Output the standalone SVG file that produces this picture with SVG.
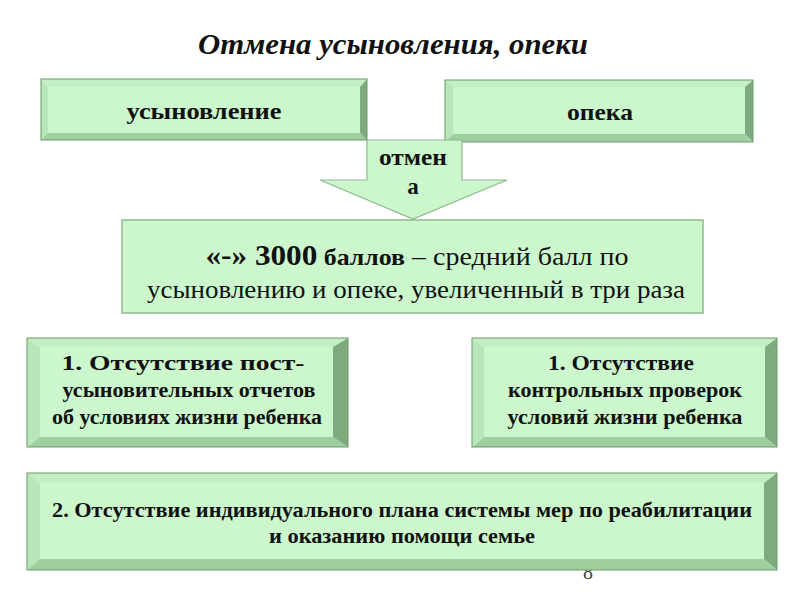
<svg xmlns="http://www.w3.org/2000/svg" width="800" height="600" viewBox="0 0 800 600">
<style>
.face{fill:#ccf6cc}
.bt{fill:#c4eec4}
.bl{fill:#b8e6b8}
.bb{fill:#9fcf9f}
.br{fill:#7eaa7e}
.out{fill:none;stroke:#6a9a6a;stroke-width:1}
.t{font-family:"Liberation Serif","DejaVu Serif",serif;fill:#111;text-anchor:middle}
.b{font-weight:bold}
</style>
<rect width="800" height="600" fill="#fff"/>
<text class="t b" x="393" y="54" font-size="29" font-style="italic" textLength="390" lengthAdjust="spacingAndGlyphs">Отмена усыновления, опеки</text>
<text x="588" y="579" font-family="Liberation Serif, serif" font-size="20" fill="#444" text-anchor="middle">8</text>

<g id="adoption">
<polygon class="bt" points="41,79 367,79 360,87 48,87"/>
<polygon class="bl" points="41,79 48,87 48,133 41,140"/>
<polygon class="bb" points="41,140 48,133 360,133 367,140"/>
<polygon class="br" points="367,79 367,140 360,133 360,87"/>
<rect class="face" x="48" y="87" width="312" height="46"/>
<rect class="out" x="41" y="79" width="326" height="61"/>
<text class="t b" x="204" y="119" font-size="24" textLength="155" lengthAdjust="spacingAndGlyphs">усыновление</text>
</g>

<g id="guardianship">
<polygon class="bt" points="445,80 753,80 745,87 453,87"/>
<polygon class="bl" points="445,80 453,87 453,134 445,142"/>
<polygon class="bb" points="445,142 453,134 745,134 753,142"/>
<polygon class="br" points="753,80 753,142 745,134 745,87"/>
<rect class="face" x="453" y="87" width="292" height="47"/>
<rect class="out" x="445" y="80" width="308" height="62"/>
<text class="t b" x="600" y="120" font-size="24" textLength="66" lengthAdjust="spacingAndGlyphs">опека</text>
</g>

<g id="connectors">
<polygon points="367,140 462,140 462,180 507,180 413,219 320,180 367,180" fill="#ccf6cc" stroke="#8dba8d" stroke-width="1.2"/>
<text class="t b" x="413" y="165" font-size="23" textLength="68" lengthAdjust="spacingAndGlyphs">отмен</text>
<text class="t b" x="413" y="194" font-size="23">а</text>
</g>

<g id="score">
<rect x="122" y="220" width="581" height="93" fill="#ccf6cc" stroke="#8dba8d" stroke-width="1.5"/>
<text class="t" x="417" y="265" font-size="26" textLength="423" lengthAdjust="spacingAndGlyphs"><tspan font-weight="bold" font-size="29">«-» 3000</tspan><tspan font-weight="bold" font-size="24"> баллов</tspan> – средний балл по</text>
<text class="t" x="416" y="298" font-size="26" textLength="538" lengthAdjust="spacingAndGlyphs">усыновлению и опеке, увеличенный в три раза</text>
</g>

<g id="reason-adoption">
<polygon class="bt" points="27,338 348,338 333,347 40,347"/>
<polygon class="bl" points="27,338 40,347 40,437 27,447"/>
<polygon class="bb" points="27,447 40,437 333,437 348,447"/>
<polygon class="br" points="348,338 348,447 333,437 333,347"/>
<rect class="face" x="40" y="347" width="293" height="90"/>
<rect class="out" x="27" y="338" width="321" height="109"/>
<text class="t b" x="183" y="370" font-size="20" textLength="243" lengthAdjust="spacingAndGlyphs">1. Отсутствие пост-</text>
<text class="t b" x="189" y="397" font-size="20" textLength="253" lengthAdjust="spacingAndGlyphs">усыновительных отчетов</text>
<text class="t b" x="187" y="424" font-size="20" textLength="270" lengthAdjust="spacingAndGlyphs">об условиях жизни ребенка</text>
</g>

<g id="reason-guardianship">
<polygon class="bt" points="472,338 777,338 765,347 484,347"/>
<polygon class="bl" points="472,338 484,347 484,437 472,447"/>
<polygon class="bb" points="472,447 484,437 765,437 777,447"/>
<polygon class="br" points="777,338 777,447 765,437 765,347"/>
<rect class="face" x="484" y="347" width="281" height="90"/>
<rect class="out" x="472" y="338" width="305" height="109"/>
<text class="t b" x="621" y="370" font-size="20" textLength="146" lengthAdjust="spacingAndGlyphs">1. Отсутствие</text>
<text class="t b" x="625" y="397" font-size="20" textLength="234" lengthAdjust="spacingAndGlyphs">контрольных проверок</text>
<text class="t b" x="625" y="424" font-size="20" textLength="235" lengthAdjust="spacingAndGlyphs">условий жизни ребенка</text>
</g>

<g id="reason-plan">
<polygon class="bt" points="27,473 777,473 764,483 40,483"/>
<polygon class="bl" points="27,473 40,483 40,559 27,570"/>
<polygon class="bb" points="27,570 40,559 764,559 777,570"/>
<polygon class="br" points="777,473 777,570 764,559 764,483"/>
<rect class="face" x="40" y="483" width="724" height="76"/>
<rect class="out" x="27" y="473" width="750" height="97"/>
<text class="t b" x="402" y="517" font-size="21" textLength="700" lengthAdjust="spacingAndGlyphs">2. Отсутствие индивидуального плана системы мер по реабилитации</text>
<text class="t b" x="402" y="543" font-size="21" textLength="266" lengthAdjust="spacingAndGlyphs">и оказанию помощи семье</text>
</g>
</svg>
